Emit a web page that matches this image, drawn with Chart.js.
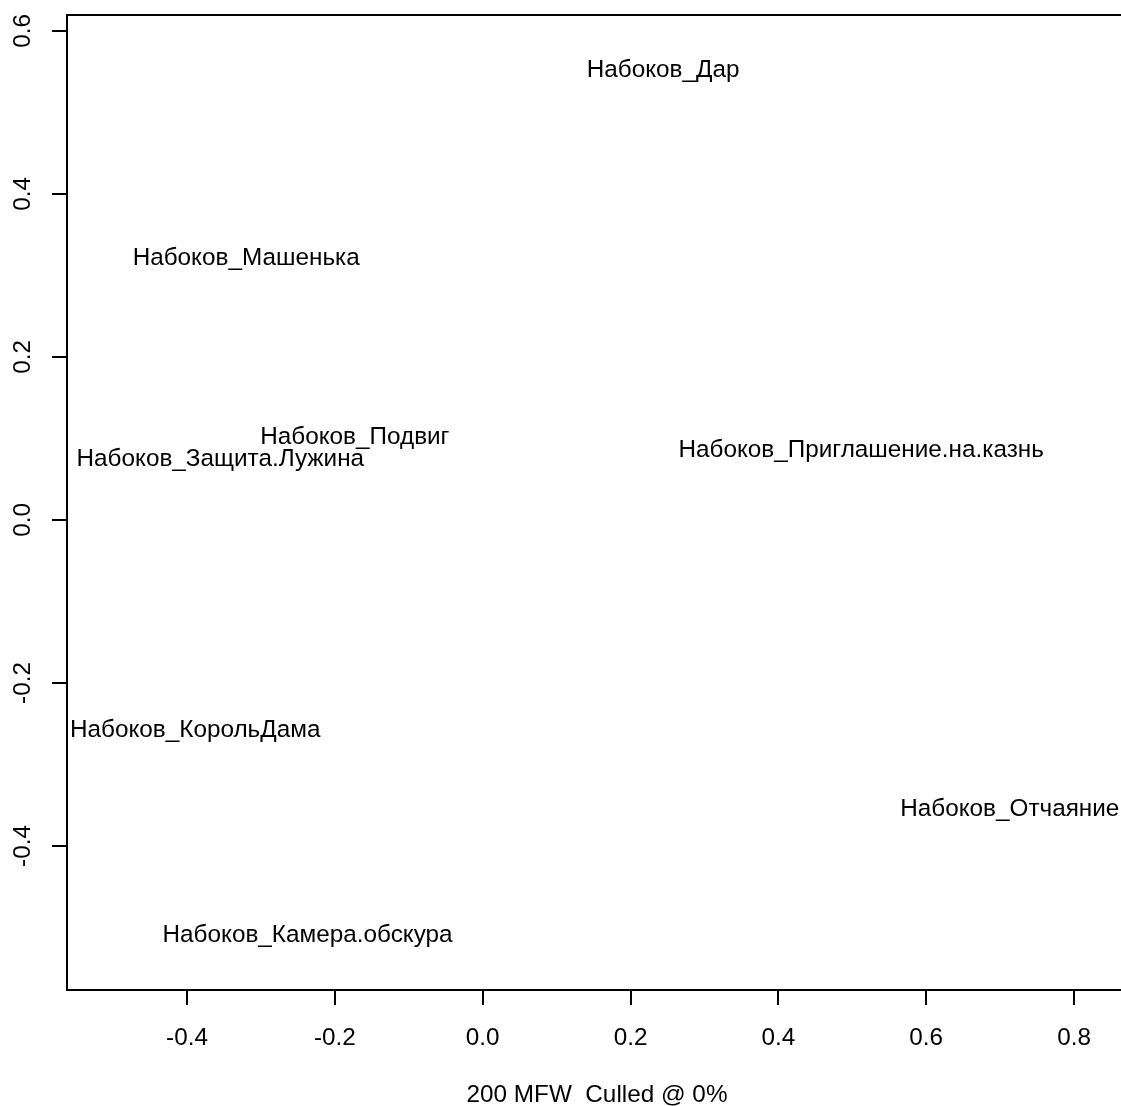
<!DOCTYPE html>
<html>
<head>
<meta charset="utf-8">
<script src="https://cdn.jsdelivr.net/npm/chart.js@4/dist/chart.umd.min.js"></script>
<style>
html,body{margin:0;padding:0;background:#fff;overflow:hidden;}
#wrap{width:1130px;height:1110px;}
</style>
</head>
<body>
<div id="wrap"><canvas id="c" width="1130" height="1110"></canvas></div>
<script>
const labels = ["Набоков_Дар","Набоков_Машенька","Набоков_Подвиг","Набоков_Защита.Лужина","Набоков_Приглашение.на.казнь","Набоков_КорольДама","Набоков_Отчаяние","Набоков_Камера.обскура"];
const xValues = [0.244, -0.320, -0.173, -0.355, 0.512, -0.389, 0.713, -0.237];
const yValues = [0.552, 0.321, 0.102, 0.075, 0.085, -0.258, -0.355, -0.510];
const xTicks = [-0.4, -0.2, 0.0, 0.2, 0.4, 0.6, 0.8];
const yTicks = [-0.4, -0.2, 0.0, 0.2, 0.4, 0.6];
const xTitle = "200 MFW  Culled @ 0%";

const FONT = "'Liberation Sans', Arial, sans-serif";
const FS = 24.3;

const textLabels = {
  id: 'textLabels',
  afterDatasetsDraw(chart) {
    const ctx = chart.ctx;
    const meta = chart.getDatasetMeta(0);
    ctx.save();
    ctx.font = FS + "px " + FONT;
    ctx.fillStyle = "#000";
    ctx.textAlign = "center";
    ctx.textBaseline = "middle";
    meta.data.forEach((pt, i) => {
      ctx.fillText(labels[i], pt.x, pt.y);
    });
    ctx.restore();
  }
};

const frame = {
  id: 'frame',
  afterDraw(chart) {
    const ctx = chart.ctx;
    const a = chart.chartArea;
    ctx.save();
    ctx.strokeStyle = "#000";
    ctx.lineWidth = 2;
    ctx.beginPath();
    ctx.moveTo(a.left, a.top);
    ctx.lineTo(a.right, a.top);
    ctx.lineTo(a.right, a.bottom);
    ctx.stroke();
    // rotated y tick labels
    const ys = chart.scales.y;
    ctx.font = FS + "px " + FONT;
    ctx.fillStyle = "#000";
    ctx.textAlign = "center";
    ctx.textBaseline = "middle";
    yTicks.forEach(v => {
      const py = ys.getPixelForValue(v);
      ctx.save();
      ctx.translate(23, py);
      ctx.rotate(-Math.PI / 2);
      ctx.fillText(v.toFixed(1), 0, 0);
      ctx.restore();
    });
    ctx.restore();
  }
};

new Chart(document.getElementById('c'), {
  type: 'scatter',
  data: {
    datasets: [{
      data: xValues.map((x, i) => ({x: x, y: yValues[i]})),
      pointRadius: 0,
      pointHoverRadius: 0
    }]
  },
  options: {
    responsive: false,
    devicePixelRatio: 1,
    animation: false,
    events: [],
    layout: { padding: { left: 0, top: 15, right: 3, bottom: 0 } },
    plugins: { legend: { display: false }, tooltip: { enabled: false } },
    scales: {
      x: {
        type: 'linear',
        min: -0.5624,
        max: 0.8716,
        afterBuildTicks: s => { s.ticks = xTicks.map(v => ({value: v})); },
        afterFit: s => { s.height = 120; },
        border: { display: true, color: '#000', width: 2 },
        grid: { display: true, drawOnChartArea: false, drawTicks: true, tickLength: 15, color: '#000', lineWidth: 2 },
        ticks: {
          autoSkip: false, maxRotation: 0, minRotation: 0,
          color: '#000', font: { family: FONT, size: FS }, padding: 19,
          callback: v => Number(v).toFixed(1)
        },
        title: { display: true, text: xTitle, color: '#000', font: { family: FONT, size: FS }, padding: { top: 0, bottom: 0 } }
      },
      y: {
        type: 'linear',
        min: -0.5767,
        max: 0.6196,
        afterBuildTicks: s => { s.ticks = yTicks.map(v => ({value: v})); },
        afterFit: s => { s.width = 67; },
        border: { display: true, color: '#000', width: 2 },
        grid: { display: true, drawOnChartArea: false, drawTicks: true, tickLength: 15, color: '#000', lineWidth: 2 },
        ticks: { display: false }
      }
    }
  },
  plugins: [textLabels, frame]
});
</script>
</body>
</html>
